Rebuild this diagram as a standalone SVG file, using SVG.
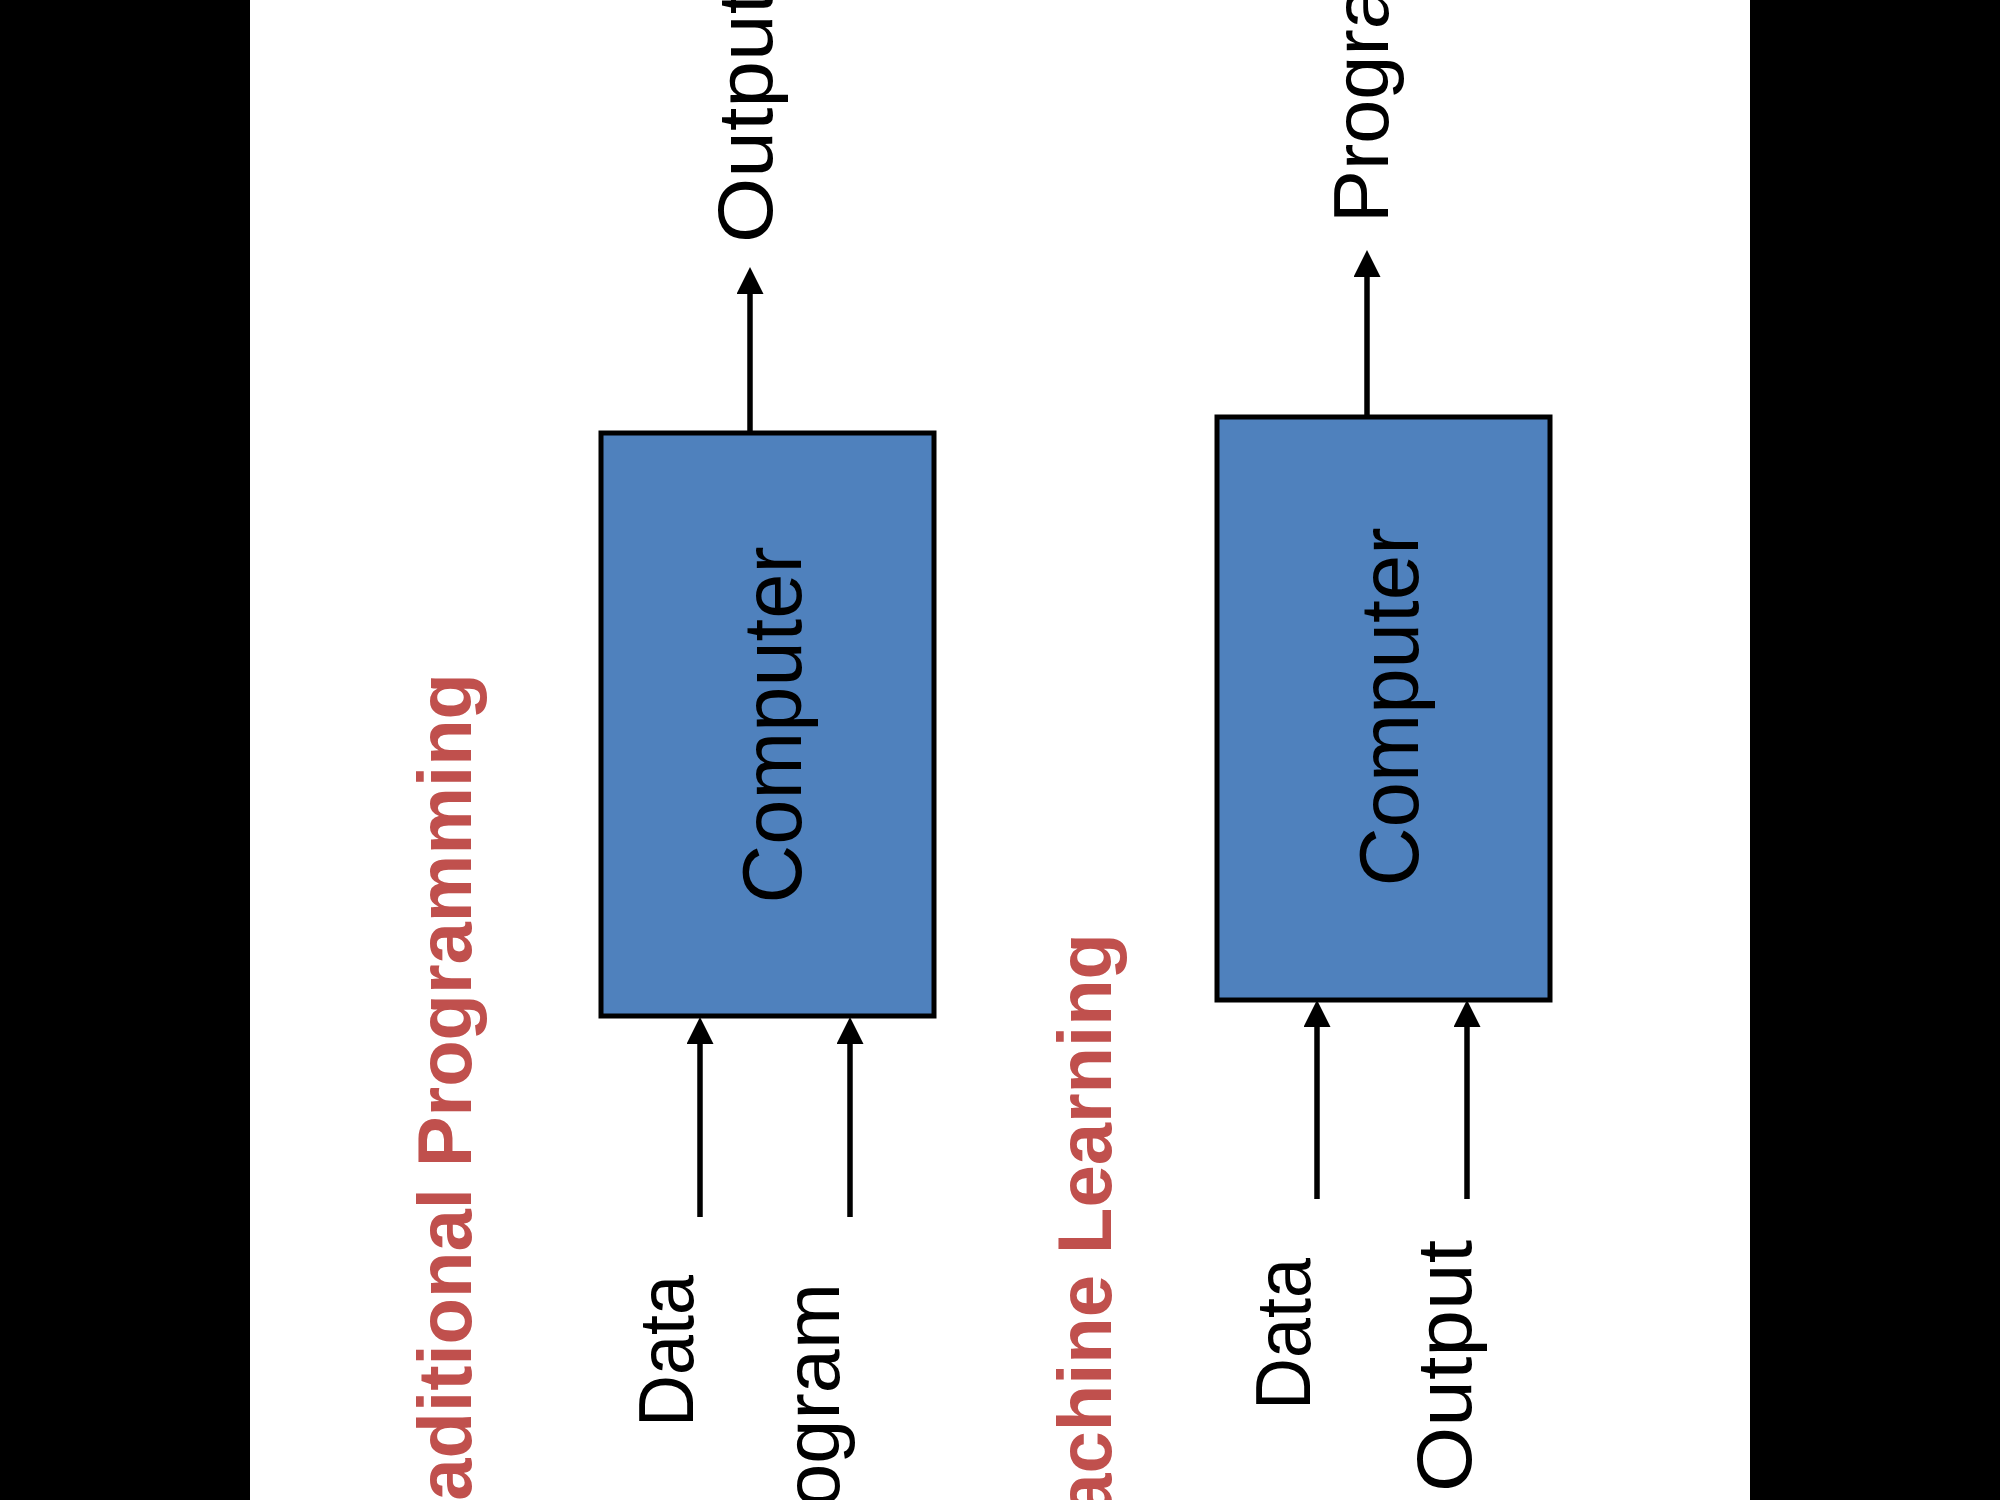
<svg xmlns="http://www.w3.org/2000/svg" width="2000" height="1500" viewBox="0 0 2000 1500">
<style>
.bar{fill:#000}
.box{fill:#4F81BD;stroke:#000;stroke-width:5}
.lbl{font-family:"Liberation Sans",Arial,sans-serif;font-size:78px;fill:#000}
.cmp{font-family:"Liberation Sans",Arial,sans-serif;font-size:84px;fill:#000}
.ttl{font-family:"Liberation Sans",Arial,sans-serif;font-size:76px;font-weight:bold;fill:#C0504D}
.conn line{stroke:#000;stroke-width:5.5;fill:none}
</style>
<defs>
<marker id="ah" viewBox="0 0 27 27" refX="0" refY="13.5" markerWidth="27" markerHeight="27" markerUnits="userSpaceOnUse" orient="auto">
<path d="M0,0 L27,13.5 L0,27 Z" fill="#000"/>
</marker>
</defs>
<rect x="0" y="0" width="2000" height="1500" fill="#fff"/>
<rect class="bar" x="0" y="0" width="250" height="1500"/>
<rect class="bar" x="1750" y="0" width="250" height="1500"/>

<g id="title-traditional">
<text class="ttl" transform="translate(471,673) rotate(-90)" text-anchor="end">Traditional Programming</text>
</g>
<g id="title-ml">
<text class="ttl" transform="translate(1111,933) rotate(-90)" text-anchor="end">Machine Learning</text>
</g>

<g id="computer-traditional">
<rect class="box" x="601" y="433" width="333" height="583"/>
<text class="cmp" transform="translate(801,725) rotate(-90)" text-anchor="middle" textLength="357" lengthAdjust="spacingAndGlyphs">Computer</text>
</g>
<g id="computer-ml">
<rect class="box" x="1217" y="417" width="333" height="583"/>
<text class="cmp" transform="translate(1418,707) rotate(-90)" text-anchor="middle" textLength="359" lengthAdjust="spacingAndGlyphs">Computer</text>
</g>

<g id="label-trad-output">
<text class="lbl" transform="translate(772,243) rotate(-90)" textLength="252" lengthAdjust="spacingAndGlyphs">Output</text>
</g>
<g id="label-trad-data">
<text class="lbl" transform="translate(693,1427) rotate(-90)" textLength="152" lengthAdjust="spacingAndGlyphs">Data</text>
</g>
<g id="label-trad-program">
<text class="lbl" transform="translate(839,1283) rotate(-90)" text-anchor="end" textLength="304" lengthAdjust="spacingAndGlyphs">Program</text>
</g>
<g id="label-ml-program">
<text class="lbl" transform="translate(1388,223) rotate(-90)" textLength="304" lengthAdjust="spacingAndGlyphs">Program</text>
</g>
<g id="label-ml-data">
<text class="lbl" transform="translate(1310,1410) rotate(-90)" textLength="152" lengthAdjust="spacingAndGlyphs">Data</text>
</g>
<g id="label-ml-output">
<text class="lbl" transform="translate(1471,1492) rotate(-90)" textLength="252" lengthAdjust="spacingAndGlyphs">Output</text>
</g>

<g id="connectors" class="conn">
<line x1="750" y1="433" x2="750" y2="294" marker-end="url(#ah)"/>
<line x1="700" y1="1217" x2="700" y2="1044" marker-end="url(#ah)"/>
<line x1="850" y1="1217" x2="850" y2="1044" marker-end="url(#ah)"/>
<line x1="1367" y1="417" x2="1367" y2="277" marker-end="url(#ah)"/>
<line x1="1317" y1="1199" x2="1317" y2="1027" marker-end="url(#ah)"/>
<line x1="1467" y1="1199" x2="1467" y2="1027" marker-end="url(#ah)"/>
</g>
</svg>
